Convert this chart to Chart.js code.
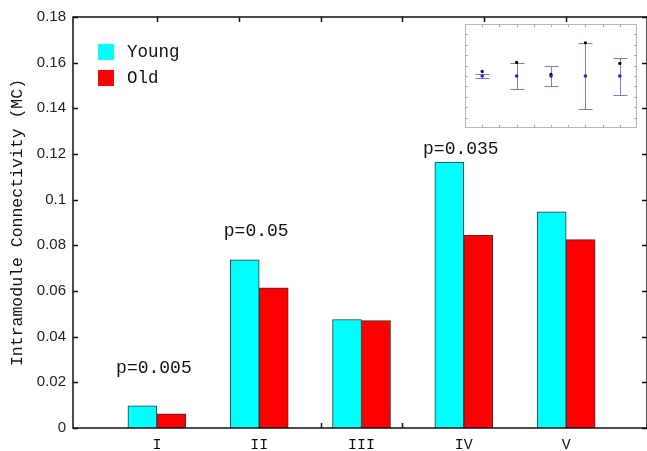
<!DOCTYPE html>
<html>
<head>
<meta charset="utf-8">
<title>Intramodule Connectivity</title>
<script src="https://cdn.jsdelivr.net/npm/chart.js@4.4.1/dist/chart.umd.min.js"></script>
<style>
  html, body { margin: 0; padding: 0; background: #fff; }
  #wrap { position: relative; width: 647px; height: 451px; overflow: hidden; }
  #mainChart { position: absolute; left: 0; top: 0; }
  #insetChart { position: absolute; left: 465px; top: 24px; background: #fff; }
</style>
</head>
<body>
<div id="wrap">
  <canvas id="mainChart" width="647" height="451"></canvas>
  <canvas id="insetChart" width="172" height="104"></canvas>
</div>
<script>
// values
const categories = ['I', 'II', 'III', 'IV', 'V'];
const youngValues = [0.0097, 0.0737, 0.0475, 0.1165, 0.0947];
const oldValues = [0.0062, 0.0614, 0.0470, 0.0845, 0.0825];
const pLabels = ['p=0.005', 'p=0.05', '', 'p=0.035', ''];
const pLabelY = [0.026, 0.086, null, 0.122, null];
const yTickValues = [0, 0.02, 0.04, 0.06, 0.08, 0.1, 0.12, 0.14, 0.16, 0.18];
const yTickLabels = ['0', '0.02', '0.04', '0.06', '0.08', '0.1', '0.12', '0.14', '0.16', '0.18'];
const frameXTicks = [1, 1.8, 2.6, 3.4, 4.2, 5];

// inset (error bars, arbitrary units)
const insetCenter = [5, 5, 5, 5, 5];
const insetLow = [4.76, 3.79, 4.08, 1.84, 3.2];
const insetHigh = [5.24, 6.21, 5.92, 8.16, 6.7];
const insetMarker = [5.44, 6.31, 5.15, 8.19, 6.21];
const insetXTicks = [0.5, 1, 1.5, 2, 2.5, 3, 3.5, 4, 4.5];
const insetYTicks = [1, 2, 3, 4, 5, 6, 7, 8, 9];

const monoFont = "'Liberation Mono', 'DejaVu Sans Mono', monospace";
const sansFont = "'Liberation Sans', Arial, sans-serif";
const positions = categories.map((c, i) => i + 1);

// frame with inward ticks (ticks go under the bars, box on top)
const frameTicks = {
    id: 'frameTicks',
    beforeDatasetsDraw(chart, args, opts) {
        const { ctx, chartArea: a, scales: { x, y } } = chart;
        const L = opts.length;
        ctx.save();
        ctx.strokeStyle = opts.color;
        ctx.lineWidth = opts.lineWidth;
        ctx.beginPath();
        opts.xTicks.forEach(v => {
            const px = Math.round(x.getPixelForValue(v)) + 0.5;
            ctx.moveTo(px, a.top); ctx.lineTo(px, a.top + L);
            ctx.moveTo(px, a.bottom); ctx.lineTo(px, a.bottom - L);
        });
        opts.yTicks.forEach(v => {
            const py = Math.round(y.getPixelForValue(v)) + 0.5;
            ctx.moveTo(a.left, py); ctx.lineTo(a.left + L, py);
            ctx.moveTo(a.right, py); ctx.lineTo(a.right - L, py);
        });
        ctx.stroke();
        ctx.restore();
    },
    afterDatasetsDraw(chart, args, opts) {
        const { ctx, chartArea: a } = chart;
        ctx.save();
        ctx.strokeStyle = opts.color;
        ctx.lineWidth = opts.lineWidth;
        ctx.strokeRect(a.left, a.top, a.right - a.left, a.bottom - a.top);
        ctx.restore();
    }
};

// p-value notes above the groups
const pValueNotes = {
    id: 'pValueNotes',
    afterDatasetsDraw(chart) {
        const { ctx, scales: { x, y } } = chart;
        ctx.save();
        ctx.font = "18px " + monoFont;
        ctx.fillStyle = '#111';
        ctx.textAlign = 'center';
        ctx.textBaseline = 'middle';
        pLabels.forEach((txt, i) => {
            if (!txt) return;
            ctx.fillText(txt, x.getPixelForValue(positions[i]) - 3, y.getPixelForValue(pLabelY[i]));
        });
        ctx.restore();
    }
};

// legend in the upper left corner of the plot
const cornerLegend = {
    id: 'cornerLegend',
    afterDatasetsDraw(chart) {
        const { ctx, chartArea: a } = chart;
        ctx.save();
        ctx.font = "17.5px " + monoFont;
        ctx.textBaseline = 'middle';
        chart.data.datasets.forEach((ds, i) => {
            const bx = a.left + 25;
            const by = a.top + 27 + i * 26;
            ctx.fillStyle = ds.backgroundColor;
            ctx.fillRect(bx, by, 16, 16);
            ctx.fillStyle = '#111';
            ctx.fillText(ds.label, bx + 29, by + 8);
        });
        ctx.restore();
    }
};

new Chart(document.getElementById('mainChart'), {
    type: 'bar',
    data: {
        datasets: [
            {
                label: 'Young',
                data: positions.map((p, i) => ({ x: p, y: youngValues[i] })),
                backgroundColor: '#00FFFF',
                borderColor: '#333',
                borderWidth: 1,
                barThickness: 29
            },
            {
                label: 'Old',
                data: positions.map((p, i) => ({ x: p, y: oldValues[i] })),
                backgroundColor: '#FF0000',
                borderColor: '#333',
                borderWidth: 1,
                barThickness: 29
            }
        ]
    },
    options: {
        responsive: false,
        animation: false,
        layout: { padding: { top: 17, right: 0, left: 0, bottom: 0 } },
        plugins: {
            legend: { display: false },
            tooltip: { enabled: false },
            frameTicks: {
                color: '#111',
                lineWidth: 1.5,
                length: 5,
                xTicks: frameXTicks,
                yTicks: yTickValues
            }
        },
        scales: {
            x: {
                type: 'linear',
                min: 0.18,
                max: 5.79,
                offset: false,
                grid: { display: false, drawTicks: false },
                border: { display: false },
                afterBuildTicks: (s) => { s.ticks = positions.map(v => ({ value: v })); },
                afterFit: (s) => { s.height = 23; },
                ticks: {
                    autoSkip: false,
                    maxRotation: 0,
                    padding: 8,
                    color: '#111',
                    font: { family: monoFont, size: 15 },
                    callback: (v) => categories[Math.round(v) - 1]
                }
            },
            y: {
                min: 0,
                max: 0.18,
                grid: { display: false, drawTicks: false },
                border: { display: false },
                afterBuildTicks: (s) => { s.ticks = yTickValues.map(v => ({ value: v })); },
                afterFit: (s) => { s.width = 73; },
                ticks: {
                    padding: 7,
                    color: '#222',
                    font: { family: sansFont, size: 15 },
                    callback: (v, i) => yTickLabels[i]
                },
                title: {
                    display: true,
                    text: 'Intramodule Connectivity (MC)',
                    color: '#111',
                    font: { family: monoFont, size: 16.5 },
                    padding: { top: 8, bottom: 0 }
                }
            }
        }
    },
    plugins: [frameTicks, pValueNotes, cornerLegend]
});

// inset: error bars with markers
const insetFrame = {
    id: 'insetFrame',
    beforeDatasetsDraw(chart) {
        const { ctx, chartArea: a, scales: { x, y } } = chart;
        ctx.save();
        ctx.strokeStyle = '#b8b8b8';
        ctx.lineWidth = 1;
        ctx.strokeRect(a.left + 0.5, a.top + 0.5, a.right - a.left - 1, a.bottom - a.top - 1);
        ctx.strokeStyle = '#aaa';
        ctx.beginPath();
        insetXTicks.forEach(v => {
            const px = Math.round(x.getPixelForValue(v)) + 0.5;
            ctx.moveTo(px, a.top); ctx.lineTo(px, a.top + 3);
            ctx.moveTo(px, a.bottom); ctx.lineTo(px, a.bottom - 3);
        });
        insetYTicks.forEach(v => {
            const py = Math.round(y.getPixelForValue(v)) + 0.5;
            ctx.moveTo(a.left, py); ctx.lineTo(a.left + 3, py);
            ctx.moveTo(a.right, py); ctx.lineTo(a.right - 3, py);
        });
        ctx.stroke();

        ctx.strokeStyle = 'rgba(90, 90, 220, 0.8)';
        ctx.beginPath();
        positions.forEach((p, i) => {
            const px = Math.round(x.getPixelForValue(p - 0.5)) + 0.5;
            const lo = Math.round(y.getPixelForValue(insetLow[i])) + 0.5;
            const hi = Math.round(y.getPixelForValue(insetHigh[i])) + 0.5;
            ctx.moveTo(px, lo); ctx.lineTo(px, hi);
            ctx.moveTo(px - 7, lo); ctx.lineTo(px + 7, lo);
            ctx.moveTo(px - 7, hi); ctx.lineTo(px + 7, hi);
        });
        ctx.stroke();
        ctx.restore();
    }
};

new Chart(document.getElementById('insetChart'), {
    type: 'scatter',
    data: {
        datasets: [
            {
                data: positions.map((p, i) => ({ x: p - 0.5, y: insetCenter[i] })),
                pointRadius: 1.8,
                pointHoverRadius: 1.8,
                pointBorderWidth: 0,
                backgroundColor: '#1f1fe0'
            },
            {
                data: positions.map((p, i) => ({ x: p - 0.5, y: insetMarker[i] })),
                pointRadius: 1.6,
                pointHoverRadius: 1.6,
                pointBorderWidth: 0,
                backgroundColor: '#000'
            }
        ]
    },
    options: {
        responsive: false,
        animation: false,
        layout: { padding: 0, autoPadding: false },
        plugins: { legend: { display: false }, tooltip: { enabled: false } },
        scales: {
            x: { type: 'linear', min: 0, max: 5, display: false },
            y: { min: 0, max: 10, display: false }
        }
    },
    plugins: [insetFrame]
});
</script>
</body>
</html>
